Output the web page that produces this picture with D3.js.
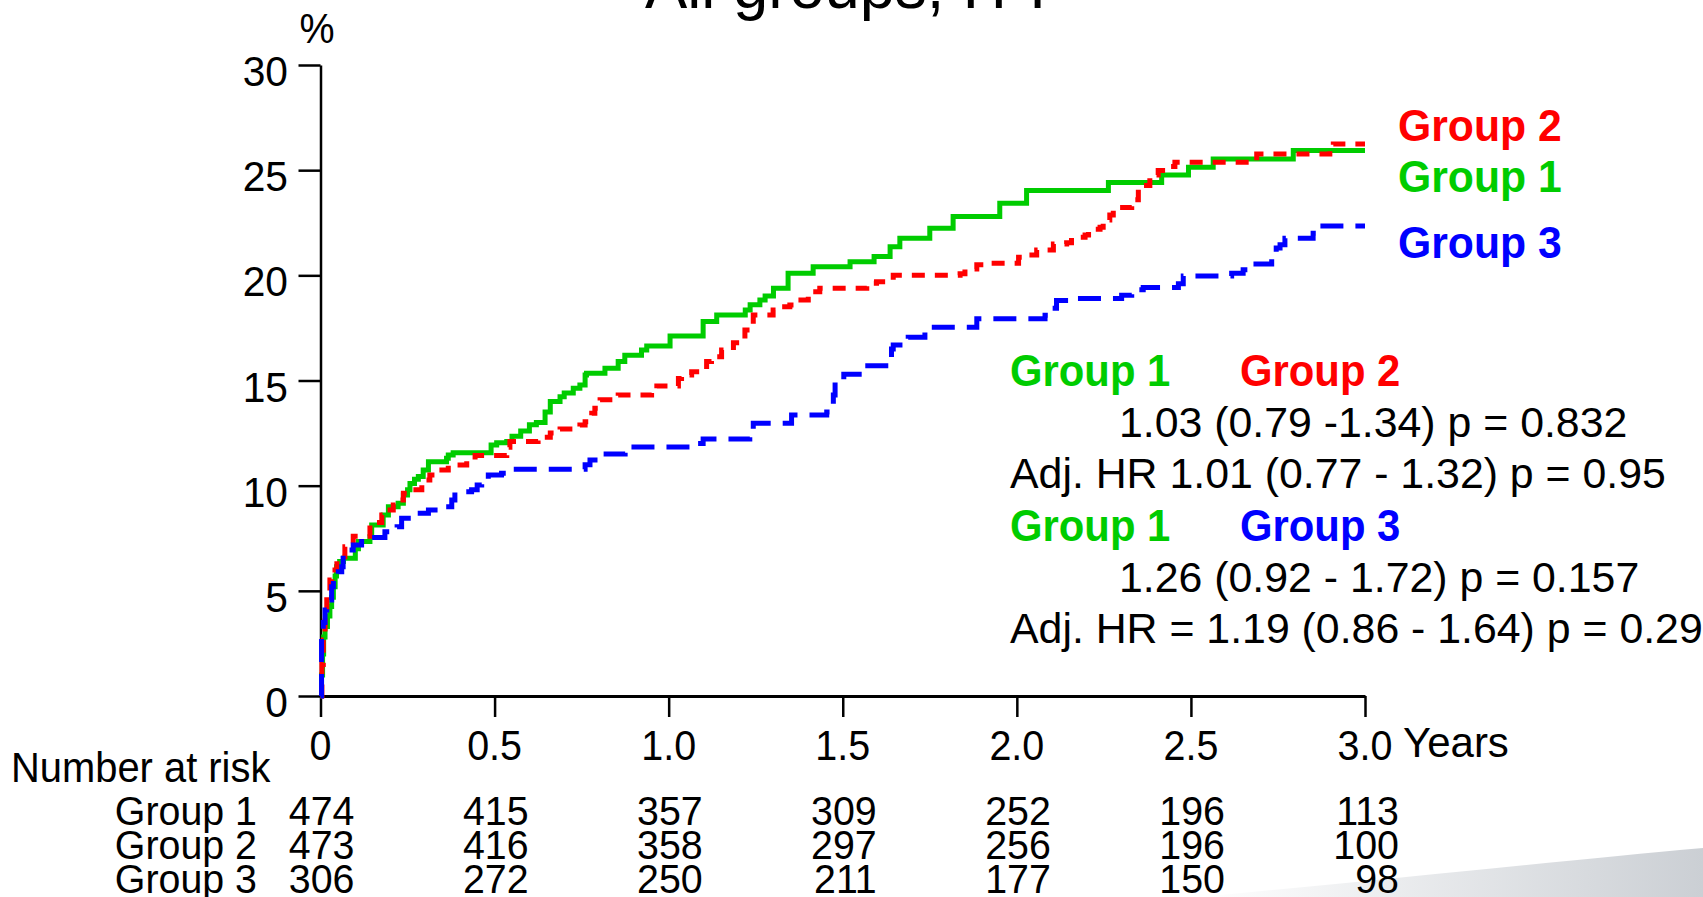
<!DOCTYPE html>
<html>
<head>
<meta charset="utf-8">
<script src="https://cdn.jsdelivr.net/npm/d3@7"></script>
<style>
  html, body { margin: 0; padding: 0; background: #fff; }
  svg { display: block; }
  text { font-family: "Liberation Sans", Arial, sans-serif; fill: #000; }
</style>
</head>
<body>
<svg id="chart" width="1703" height="897"></svg>
<script>
// Cumulative incidence (%) by years of follow-up, one step series per group: [years, percent]
const group1 = [[0,0],[0.003,1.0],[0.006,2.0],[0.009,2.8],[0.013,3.3],[0.02,3.8],[0.027,4.25],[0.032,4.7],[0.037,5.2],[0.042,5.7],[0.046,6.15],[0.055,6.4],[0.066,6.55],[0.1,7.0],[0.109,7.34],[0.142,7.57],[0.147,8.13],[0.18,8.6],[0.195,9.0],[0.223,9.16],[0.238,9.56],[0.25,9.8],[0.257,10.1],[0.27,10.3],[0.281,10.43],[0.295,10.75],[0.31,11.14],[0.362,11.3],[0.367,11.46],[0.381,11.57],[0.49,11.93],[0.506,12.04],[0.535,12.1],[0.55,12.35],[0.575,12.6],[0.6,12.9],[0.62,13.0],[0.645,13.5],[0.66,14.0],[0.688,14.23],[0.7,14.4],[0.726,14.63],[0.745,14.79],[0.76,15.26],[0.764,15.34],[0.817,15.58],[0.855,15.9],[0.874,16.2],[0.922,16.45],[0.937,16.64],[1.004,17.12],[1.099,17.8],[1.138,18.12],[1.22,18.35],[1.234,18.6],[1.262,18.83],[1.277,19.02],[1.301,19.39],[1.343,20.1],[1.415,20.41],[1.521,20.65],[1.59,20.89],[1.636,21.36],[1.664,21.76],[1.75,22.24],[1.817,22.8],[1.951,23.43],[2.028,24.03],[2.263,24.41],[2.416,24.77],[2.493,25.14],[2.564,25.53],[2.794,25.93],[3.0,25.93]];
const group2 = [[0,0],[0.004,1.5],[0.008,2.66],[0.013,3.93],[0.018,4.96],[0.027,5.52],[0.032,5.99],[0.047,6.47],[0.056,6.62],[0.07,7.1],[0.085,7.26],[0.094,7.6],[0.142,8.25],[0.176,8.6],[0.19,8.84],[0.209,9.08],[0.224,9.32],[0.238,9.64],[0.257,9.8],[0.291,10.03],[0.3,10.27],[0.314,10.51],[0.334,10.75],[0.367,10.98],[0.42,11.22],[0.444,11.43],[0.535,11.83],[0.544,12.1],[0.625,12.3],[0.66,12.5],[0.688,12.7],[0.745,12.89],[0.76,13.04],[0.779,13.44],[0.788,13.68],[0.803,14.08],[0.855,14.31],[0.951,14.55],[0.966,14.74],[1.028,15.1],[1.037,15.26],[1.066,15.42],[1.099,15.5],[1.109,15.9],[1.123,16.13],[1.152,16.45],[1.186,16.8],[1.219,17.4],[1.238,17.64],[1.243,18.12],[1.3,18.35],[1.315,18.51],[1.348,18.59],[1.368,18.83],[1.401,19.07],[1.415,19.22],[1.434,19.39],[1.569,19.62],[1.597,19.7],[1.636,19.78],[1.645,20.0],[1.837,20.07],[1.851,20.3],[1.885,20.5],[1.914,20.58],[2.005,20.86],[2.029,20.97],[2.057,21.2],[2.105,21.49],[2.143,21.55],[2.157,21.81],[2.196,21.92],[2.206,22.19],[2.239,22.29],[2.248,22.63],[2.267,22.87],[2.277,23.22],[2.33,23.59],[2.349,24.27],[2.382,24.77],[2.406,24.98],[2.44,25.17],[2.454,25.38],[2.689,25.77],[2.899,25.96],[2.909,26.25],[3.0,26.25]];
const group3 = [[0,0],[0.003,2.82],[0.008,3.5],[0.013,4.09],[0.018,4.56],[0.032,5.2],[0.037,5.6],[0.051,5.91],[0.061,6.15],[0.065,6.79],[0.075,6.94],[0.094,7.18],[0.118,7.53],[0.185,7.81],[0.22,8.05],[0.233,8.45],[0.26,8.69],[0.31,8.84],[0.34,9.0],[0.377,9.32],[0.386,9.71],[0.434,9.8],[0.45,10.03],[0.463,10.27],[0.482,10.51],[0.52,10.59],[0.554,10.78],[0.76,11.0],[0.774,11.22],[0.798,11.5],[0.875,11.84],[1.076,12.0],[1.099,12.22],[1.233,12.5],[1.243,12.97],[1.353,13.36],[1.454,13.5],[1.465,13.76],[1.473,14.31],[1.478,14.95],[1.503,15.3],[1.564,15.7],[1.631,16.06],[1.64,16.5],[1.645,16.69],[1.679,16.85],[1.688,17.06],[1.736,17.32],[1.741,17.53],[1.885,17.93],[2.081,18.1],[2.09,18.44],[2.114,18.8],[2.162,18.9],[2.301,19.05],[2.33,19.31],[2.363,19.42],[2.464,19.6],[2.478,19.97],[2.617,20.1],[2.65,20.26],[2.669,20.54],[2.732,20.97],[2.745,21.3],[2.756,21.45],[2.77,21.76],[2.851,22.0],[2.866,22.35],[3.0,22.35]];

// Axis ticks
const xTicks = [0, 0.5, 1, 1.5, 2, 2.5, 3];
const xTickLabels = ["0", "0.5", "1.0", "1.5", "2.0", "2.5", "3.0"];
const yTicks = [0, 5, 10, 15, 20, 25, 30];

// Number at risk at each x tick
const riskGroups = ["Group 1", "Group 2", "Group 3"];
const riskGroup1 = [474, 415, 357, 309, 252, 196, 113];
const riskGroup2 = [473, 416, 358, 297, 256, 196, 100];
const riskGroup3 = [306, 272, 250, 211, 177, 150, 98];

// Hazard ratio annotations
const hrLines = [
  {pair: ["Group 1", "Group 2"], crude: "1.03 (0.79 -1.34) p = 0.832", adjusted: "Adj. HR 1.01 (0.77 - 1.32) p = 0.95"},
  {pair: ["Group 1", "Group 3"], crude: "1.26 (0.92 - 1.72) p = 0.157", adjusted: "Adj. HR = 1.19 (0.86 - 1.64) p = 0.29"}
];

const colors = {"Group 1": "#00cc00", "Group 2": "#ff0000", "Group 3": "#0000ff"};

const svg = d3.select("#chart");

// soft grey swoosh in the lower right corner
const defs = svg.append("defs");
const grad = defs.append("linearGradient").attr("id", "swoosh")
  .attr("x1", "0").attr("y1", "0").attr("x2", "1").attr("y2", "0");
grad.append("stop").attr("offset", "0").attr("stop-color", "#ffffff");
grad.append("stop").attr("offset", "1").attr("stop-color", "#cbcfd4");
svg.append("path")
  .attr("d", "M1200,897 C1400,878 1570,860 1703,848 L1703,897 Z")
  .attr("fill", "url(#swoosh)");

const x = d3.scaleLinear().domain([0, 3]).range([320.5, 1365]);
const y = d3.scaleLinear().domain([0, 30]).range([696, 65]);

// text helper: horizontally condensed label
function label(g, tx, ty, str, opts = {}) {
  const t = g.append("text")
    .attr("transform", `translate(${tx},${ty}) scale(${opts.sx ?? 1},1)`)
    .attr("text-anchor", opts.anchor ?? "start")
    .style("font-size", (opts.size ?? 42) + "px")
    .style("font-weight", opts.bold ? "bold" : "normal")
    .text(str);
  if (opts.fill) t.style("fill", opts.fill);
  return t;
}

// Title (partly above the frame)
label(svg, 851, 8, "All groups, ITT", {anchor: "middle", size: 64, sx: 0.99});

// Axes
const yAxis = svg.append("g")
  .attr("transform", `translate(${x(0)},0)`)
  .call(d3.axisLeft(y).tickValues(yTicks).tickSize(22).tickSizeOuter(0).tickFormat(() => ""));
const xAxis = svg.append("g")
  .attr("transform", `translate(0,${y(0)})`)
  .call(d3.axisBottom(x).tickValues(xTicks).tickSize(21).tickSizeOuter(0).tickFormat(() => ""));
yAxis.select(".domain").attr("stroke", "#000").attr("stroke-width", 2.5);
yAxis.selectAll(".tick line").attr("stroke", "#000").attr("stroke-width", 2.5);
xAxis.select(".domain").attr("stroke", "#000").attr("stroke-width", 3.2);
xAxis.selectAll(".tick line").attr("stroke", "#000").attr("stroke-width", 2.5);

const tickLabels = svg.append("g");
yTicks.forEach(v => label(tickLabels, 288, y(v) + 21, String(v), {anchor: "end", size: 42, sx: 0.97}));
xTicks.forEach((v, i) => label(tickLabels, x(v), 760, xTickLabels[i], {anchor: "middle", size: 42, sx: 0.94}));
label(tickLabels, 317, 43, "%", {anchor: "middle", size: 42, sx: 0.94});
label(tickLabels, 1403, 757, "Years", {size: 42, sx: 1.0});

// Curves
const line = d3.line().x(d => x(d[0])).y(d => y(d[1])).curve(d3.curveStepAfter);
const curves = svg.append("g").attr("fill", "none").attr("stroke-linejoin", "miter");
curves.append("path").datum(group1).attr("d", line)
  .attr("stroke", colors["Group 1"]).attr("stroke-width", 5);
curves.append("path").datum(group2).attr("d", line)
  .attr("stroke", colors["Group 2"]).attr("stroke-width", 5).attr("stroke-dasharray", "13,10");
curves.append("path").datum(group3).attr("d", line)
  .attr("stroke", colors["Group 3"]).attr("stroke-width", 5).attr("stroke-dasharray", "23,12");

// End-of-curve group labels
const ends = svg.append("g");
label(ends, 1398, 141, "Group 2", {bold: true, size: 45, sx: 0.95, fill: colors["Group 2"]});
label(ends, 1398, 192, "Group 1", {bold: true, size: 45, sx: 0.95, fill: colors["Group 1"]});
label(ends, 1398, 258, "Group 3", {bold: true, size: 45, sx: 0.95, fill: colors["Group 3"]});

// Hazard ratio block
const hr = svg.append("g");
hrLines.forEach((h, i) => {
  const base = 386 + i * 155;
  label(hr, 1010, base, h.pair[0], {bold: true, size: 45, sx: 0.93, fill: colors[h.pair[0]]});
  label(hr, 1240, base, h.pair[1], {bold: true, size: 45, sx: 0.93, fill: colors[h.pair[1]]});
  label(hr, 1119, base + 51, h.crude, {size: 42, sx: 1.02});
  label(hr, 1010, base + 102, h.adjusted, {size: 42, sx: 1.02});
});

// Number at risk table
const risk = svg.append("g");
label(risk, 11, 782, "Number at risk", {size: 42, sx: 0.95});
[riskGroup1, riskGroup2, riskGroup3].forEach((row, r) => {
  const base = 825 + r * 34;
  label(risk, 257, base, riskGroups[r], {anchor: "end", size: 41, sx: 0.96});
  row.forEach((n, i) => label(risk, x(xTicks[i]) + 34, base, String(n), {anchor: "end", size: 41, sx: 0.96}));
});
</script>
</body>
</html>
